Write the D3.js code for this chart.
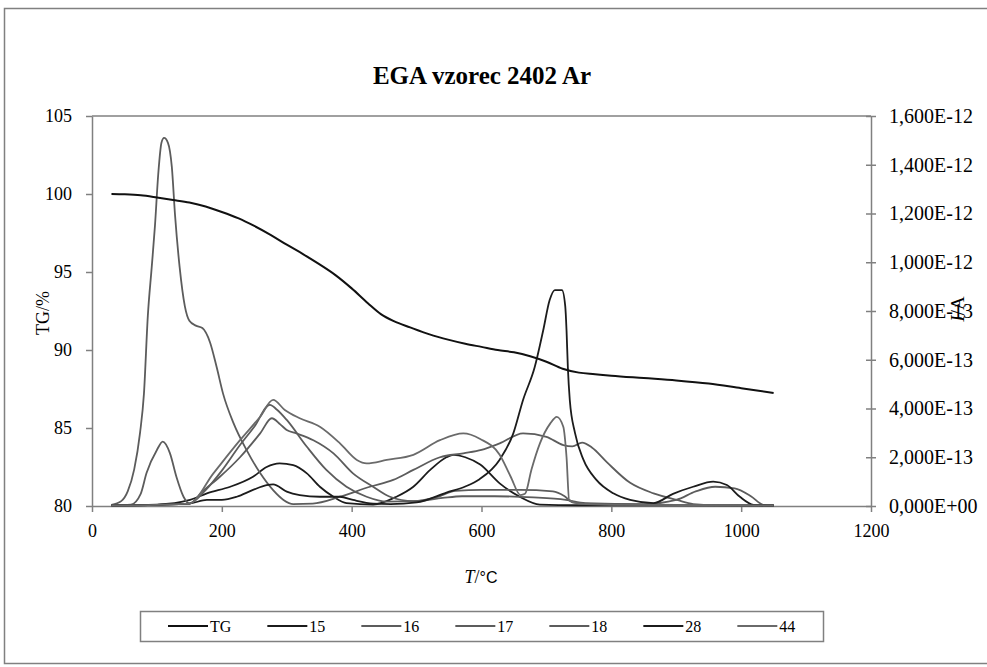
<!DOCTYPE html>
<html>
<head>
<meta charset="utf-8">
<script src="https://cdn.jsdelivr.net/npm/d3@7"></script>
<style>
  body { margin: 0; background: #fff; }
  svg text { font-family: "Liberation Serif", "Times New Roman", serif; fill: #000; }
</style>
</head>
<body>
<svg id="chart" width="987" height="667"></svg>
<script>
// ---- data -------------------------------------------------------------
// Thermogravimetric curve: [T / °C, TG / %]
const tgCurve = [
  [30,100],[50,99.98],[75,99.92],[100,99.78],[125,99.62],[150,99.45],[175,99.2],
  [200,98.85],[225,98.45],[250,97.95],[275,97.38],[300,96.75],[325,96.15],[350,95.5],
  [375,94.8],[400,93.95],[425,93.0],[445,92.3],[465,91.85],[490,91.45],[520,91.0],
  [550,90.65],[575,90.4],[600,90.2],[625,90.0],[650,89.85],[675,89.6],[700,89.25],
  [725,88.8],[750,88.55],[775,88.45],[800,88.35],[850,88.2],[900,88.05],[950,87.85],
  [1000,87.55],[1050,87.25]
];

// Ion currents, m/z traces: [T / °C, I in units of 1e-13 A]
const ion15 = [
  [30,0.03],[100,0.06],[151,0.25],[177,0.52],[213,0.79],[248,1.2],[269,1.6],[289,1.75],
  [310,1.68],[331,1.34],[351,0.79],[372,0.38],[392,0.12],[433,0.06],[469,0.38],[495,0.79],
  [521,1.48],[546,2.0],[557,2.1],[575,2.0],[598,1.7],[628,0.93],[659,0.38],[690,0.06],
  [750,0.03],[1050,0.02]
];
const ion16 = [
  [30,0.02],[100,0.05],[150,0.1],[175,0.65],[200,1.45],[228,2.5],[250,3.25],[274,4.15],
  [285,3.95],[300,3.53],[331,2.43],[361,1.48],[392,0.79],[423,0.38],[454,0.18],[500,0.2],
  [540,0.33],[570,0.4],[620,0.4],[680,0.35],[730,0.25],[760,0.12],[850,0.08],[900,0.25],
  [930,0.6],[960,0.79],[990,0.72],[1015,0.4],[1034,0.05],[1050,0.02]
];
const ion17 = [
  [30,0.02],[60,0.06],[75,0.5],[84,1.35],[100,2.3],[109,2.64],[120,2.17],[130,1.2],
  [141,0.38],[150,0.1],[170,0.6],[197,1.2],[228,2.0],[259,2.98],[277,3.6],[290,3.35],
  [300,3.12],[315,2.98],[341,2.7],[372,2.16],[402,1.34],[433,0.79],[459,0.38],[495,0.2],
  [530,0.35],[560,0.62],[600,0.66],[659,0.66],[710,0.6],[728,0.4],[740,0.15],[780,0.08],
  [900,0.05],[1050,0.02]
];
const ion18 = [
  [30,0.05],[45,0.2],[55,0.6],[65,1.5],[74,3.0],[80,4.6],[86,7.8],[92,9.8],[97,11.5],
  [102,13.6],[107,14.9],[111,15.1],[117,14.9],[123,13.9],[128,11.9],[135,9.8],[143,8.2],
  [150,7.6],[160,7.4],[170,7.3],[182,6.7],[192,5.7],[202,4.6],[218,3.4],[238,2.3],
  [259,1.35],[279,0.65],[295,0.25],[310,0.08],[340,0.1],[382,0.38],[428,0.79],[464,1.07],
  [495,1.48],[536,2.0],[572,2.16],[600,2.3],[628,2.57],[664,2.98],[700,2.84],[726,2.5],
  [740,2.45],[755,2.6],[770,2.4],[793,1.8],[829,0.95],[865,0.52],[901,0.25],[926,0.08],
  [960,0.03],[1050,0.02]
];
const ion28 = [
  [30,0.02],[100,0.05],[150,0.1],[177,0.25],[200,0.25],[223,0.38],[248,0.66],[269,0.86],
  [279,0.89],[300,0.59],[320,0.45],[351,0.38],[382,0.38],[402,0.25],[433,0.1],[460,0.08],
  [500,0.15],[546,0.55],[575,0.8],[597,1.1],[628,1.9],[649,2.98],[664,4.35],[682,5.7],
  [695,7.2],[705,8.45],[713,8.86],[724,8.86],[729,8.2],[731,7.2],[733,5.7],[736,4.35],
  [744,3.0],[757,1.9],[777,1.07],[803,0.52],[829,0.25],[865,0.12],[895,0.5],[926,0.79],
  [957,1.0],[978,0.86],[998,0.38],[1019,0.05],[1050,0.02]
];
const ion44 = [
  [30,0.02],[100,0.05],[150,0.1],[187,1.34],[228,2.7],[259,3.66],[279,4.35],[297,3.94],
  [320,3.6],[351,3.25],[382,2.57],[408,1.89],[423,1.75],[454,1.89],[495,2.1],[536,2.7],
  [572,2.98],[598,2.75],[628,2.1],[645,1.2],[660,0.45],[667,0.5],[677,1.5],[690,2.57],
  [706,3.39],[716,3.66],[726,3.25],[731,2.0],[735,0.25],[750,0.1],[800,0.05],[1050,0.02]
];

const seriesNames = ["TG", "15", "16", "17", "18", "28", "44"];
const seriesColors = ["#111111", "#1c1c1c", "#5c5c5c", "#5c5c5c", "#5c5c5c", "#1c1c1c", "#6a6a6a"];
const ionSeries = [ion15, ion16, ion17, ion18, ion28, ion44];

const xTicks = [0, 200, 400, 600, 800, 1000, 1200];
const tgTicks = [80, 85, 90, 95, 100, 105];
const ionTicks = [0, 2, 4, 6, 8, 10, 12, 14, 16];   // ×1e-13 A

// ---- layout -----------------------------------------------------------
const svg = d3.select("#chart");
const plot = { left: 92, right: 871, top: 116, bottom: 506 };
const axisColor = "#808080";

const x = d3.scaleLinear().domain([0, 1200]).range([plot.left, plot.right]);
const yTG = d3.scaleLinear().domain([80, 105]).range([plot.bottom, plot.top]);
const yIon = d3.scaleLinear().domain([0, 16]).range([plot.bottom, plot.top]);

// Excel-style scientific label with decimal comma, e.g. 1,600E-12
function sciLabel(v) {
  const s = (v * 1e-13).toExponential(3);
  let [m, e] = s.split("e");
  const sign = e[0] === "-" ? "-" : "+";
  const digits = e.replace(/[+-]/, "").padStart(2, "0");
  return m.replace(".", ",") + "E" + sign + digits;
}

// outer chart frame
svg.append("rect")
  .attr("x", 4.5).attr("y", 8.5).attr("width", 1000).attr("height", 655)
  .attr("fill", "none").attr("stroke", axisColor).attr("stroke-width", 1.5);

// title
svg.append("text")
  .attr("x", 482).attr("y", 84)
  .attr("text-anchor", "middle")
  .style("font-weight", "bold").style("font-size", "25px")
  .text("EGA vzorec 2402 Ar");

// plot frame top edge
svg.append("line")
  .attr("x1", plot.left).attr("x2", plot.right)
  .attr("y1", plot.top).attr("y2", plot.top)
  .attr("stroke", axisColor).attr("stroke-width", 1.5);

function styleAxis(size) {
  return g => {
    g.select(".domain").attr("stroke", axisColor).attr("stroke-width", 1.5);
    g.selectAll(".tick line").attr("stroke", axisColor).attr("stroke-width", 1.5);
    g.selectAll(".tick text")
      .style("font-family", '"Liberation Serif", "Times New Roman", serif')
      .style("font-size", size + "px").attr("fill", "#000");
  };
}

// left TG axis
svg.append("g")
  .attr("transform", `translate(${plot.left},0)`)
  .call(d3.axisLeft(yTG).tickValues(tgTicks).tickFormat(d3.format("d"))
    .tickSize(6).tickSizeOuter(0).tickPadding(14))
  .call(styleAxis(18));

// right ion-current axis, ticks crossing the line
const gR = svg.append("g")
  .attr("transform", `translate(${plot.right},0)`)
  .call(d3.axisRight(yIon).tickValues(ionTicks).tickFormat(sciLabel)
    .tickSize(5).tickSizeOuter(0).tickPadding(13))
  .call(styleAxis(20));
gR.selectAll(".tick line").attr("x1", -5).attr("x2", 5);

// bottom temperature axis
svg.append("g")
  .attr("transform", `translate(0,${plot.bottom})`)
  .call(d3.axisBottom(x).tickValues(xTicks).tickFormat(d3.format("d"))
    .tickSize(6).tickSizeOuter(0).tickPadding(12))
  .call(styleAxis(18));

// axis titles
svg.append("text")
  .attr("transform", "translate(49,313) rotate(-90)")
  .attr("text-anchor", "middle").style("font-size", "18px")
  .text("TG/%");

const ia = svg.append("text")
  .attr("transform", "translate(964,309) rotate(-90)")
  .attr("text-anchor", "middle").style("font-size", "19px");
ia.append("tspan").style("font-style", "italic").text("I");
ia.append("tspan").text("/A");

const tt = svg.append("text")
  .attr("x", 481).attr("y", 583)
  .attr("text-anchor", "middle").style("font-size", "18px");
tt.append("tspan").style("font-style", "italic").text("T");
tt.append("tspan").text("/");
tt.append("tspan").style("font-family", '"Liberation Sans", Arial, sans-serif').style("font-size", "16px").text("°C");

// ---- series -----------------------------------------------------------
const lineIon = d3.line()
  .x(d => x(d[0])).y(d => yIon(d[1]))
  .curve(d3.curveMonotoneX);
const lineTG = d3.line()
  .x(d => x(d[0])).y(d => yTG(d[1]))
  .curve(d3.curveMonotoneX);

svg.append("g").selectAll("path")
  .data(ionSeries)
  .join("path")
  .attr("d", lineIon)
  .attr("fill", "none")
  .attr("stroke", (d, i) => seriesColors[i + 1])
  .attr("stroke-width", 1.8)
  .attr("stroke-linejoin", "round");

svg.append("path")
  .datum(tgCurve)
  .attr("d", lineTG)
  .attr("fill", "none")
  .attr("stroke", seriesColors[0])
  .attr("stroke-width", 2);

// ---- legend -----------------------------------------------------------
svg.append("rect")
  .attr("x", 140.5).attr("y", 611.5).attr("width", 683).attr("height", 30)
  .attr("fill", "#fff").attr("stroke", axisColor).attr("stroke-width", 1.5);

const legend = svg.append("g");
let lx = 168;
seriesNames.forEach((name, i) => {
  const g = legend.append("g").attr("transform", `translate(${lx},626)`);
  g.append("line").attr("x1", 0).attr("x2", 40).attr("y1", 0).attr("y2", 0)
    .attr("stroke", seriesColors[i]).attr("stroke-width", 2);
  const t = g.append("text").attr("x", 42).attr("y", 5.5)
    .style("font-size", "16px").text(name);
  const w = t.node().getComputedTextLength();
  lx += 42 + w + 36;
});
</script>
</body>
</html>
